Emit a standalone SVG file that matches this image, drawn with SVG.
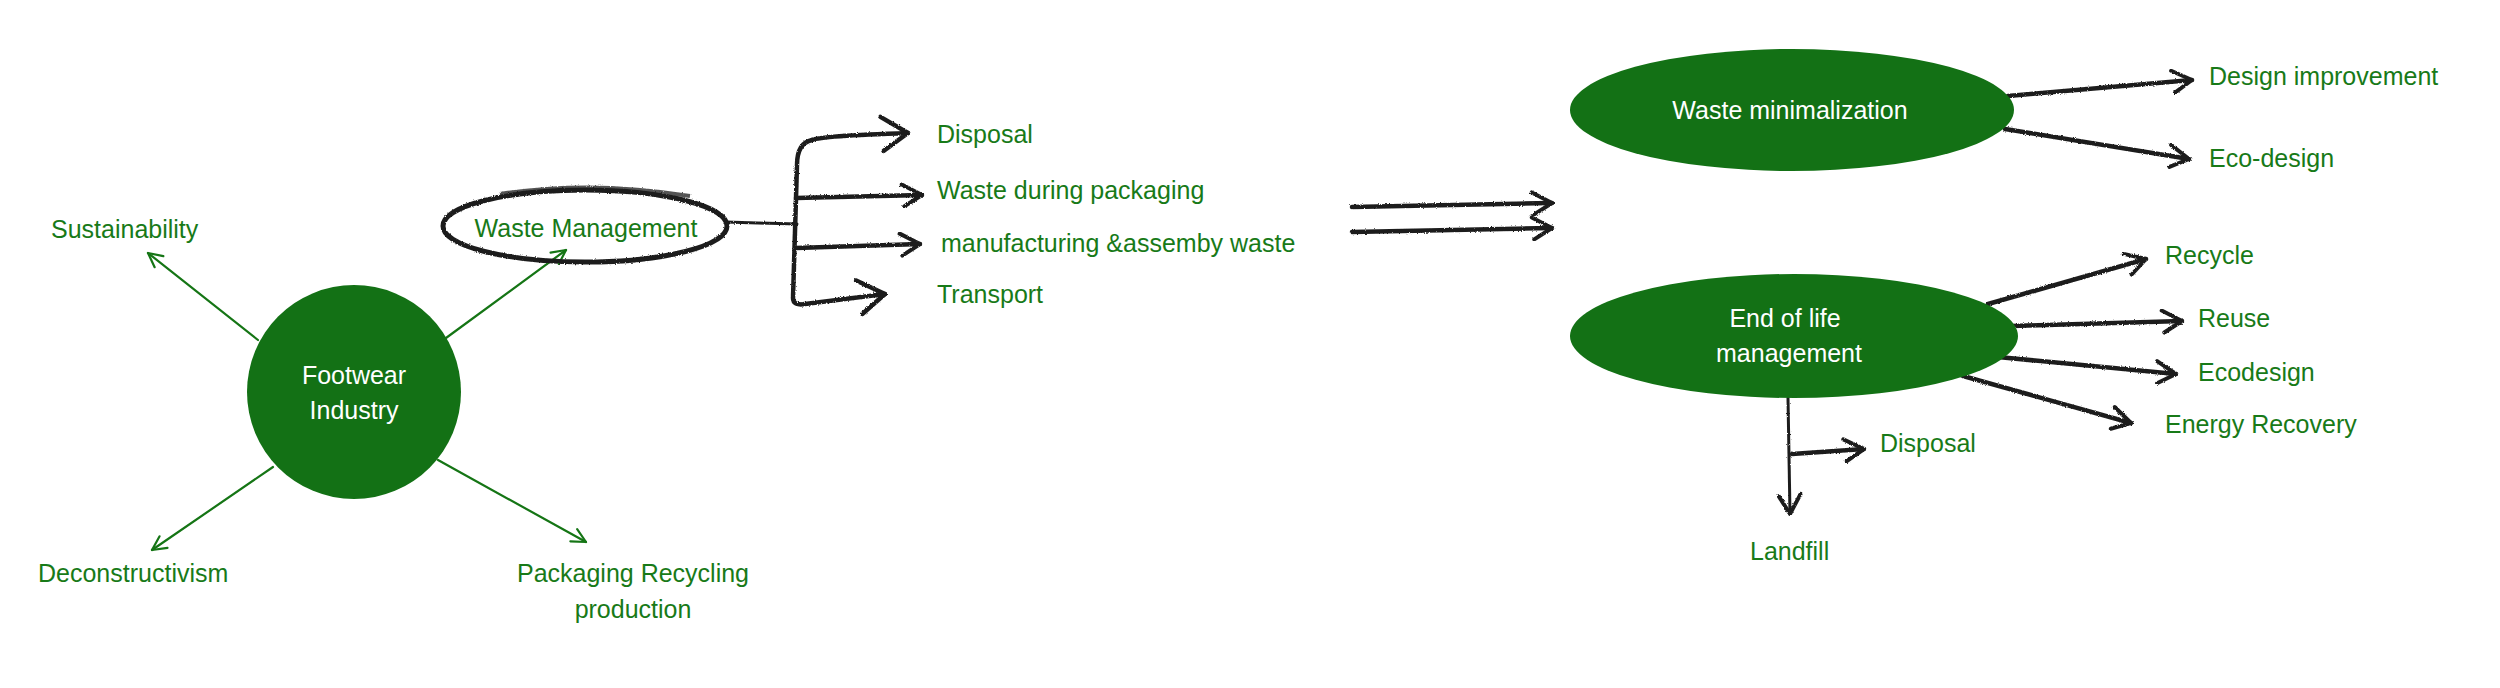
<svg xmlns="http://www.w3.org/2000/svg" width="2500" height="688" viewBox="0 0 2500 688">
<style>
.lbl{font-family:"Liberation Sans",Arial,sans-serif;font-size:25px;fill:#187a18}
.wht{font-family:"Liberation Sans",Arial,sans-serif;font-size:25px;fill:#ffffff}
.blob{fill:#137115}
.bk{fill:none;stroke:#1e1e1e;stroke-width:4.5;stroke-linecap:round;stroke-linejoin:round}
.bkt{fill:none;stroke:#1e1e1e;stroke-width:3;stroke-linecap:round}
.gr{fill:none;stroke:#157515;stroke-width:2.2;stroke-linecap:round}
</style>
<defs>
<filter id="chalk" x="-5%" y="-20%" width="110%" height="140%">
<feTurbulence type="fractalNoise" baseFrequency="0.9" numOctaves="2" seed="3" result="n"/>
<feDisplacementMap in="SourceGraphic" in2="n" scale="2.5" xChannelSelector="R" yChannelSelector="G"/>
</filter>
<marker id="ab" viewBox="0 0 26 26" refX="23" refY="13" markerWidth="26" markerHeight="26" markerUnits="userSpaceOnUse" orient="auto">
<path d="M3,2 L23,13 L5,24" fill="none" stroke="#1e1e1e" stroke-width="4" stroke-linecap="round" stroke-linejoin="round"/>
</marker>
<marker id="abL" viewBox="0 0 34 40" refX="31" refY="20" markerWidth="34" markerHeight="40" markerUnits="userSpaceOnUse" orient="auto">
<path d="M4,3 L31,20 L6,37" fill="none" stroke="#1e1e1e" stroke-width="4.5" stroke-linecap="round" stroke-linejoin="round"/>
</marker>
<marker id="ag" viewBox="0 0 18 18" refX="16" refY="9" markerWidth="18" markerHeight="18" markerUnits="userSpaceOnUse" orient="auto">
<path d="M2,2 L16,9 L2,16" fill="none" stroke="#157515" stroke-width="2.2" stroke-linecap="round" stroke-linejoin="round"/>
</marker>
</defs>
<rect width="2500" height="688" fill="#ffffff"/>

<g id="connectors">
<path class="gr" d="M258,340 L148,253" marker-end="url(#ag)"/>
<path class="gr" d="M446,338 L566,250" marker-end="url(#ag)"/>
<path class="gr" d="M273,467 L152,550" marker-end="url(#ag)"/>
<path class="gr" d="M438,460 L586,542" marker-end="url(#ag)"/>
<g filter="url(#chalk)">
<path class="bkt" d="M726,222 L797,224"/>
<path class="bk" d="M812,140 Q797,143 797,165 L793,298 Q793,306 805,304 L885,294" marker-end="url(#abL)"/>
<path class="bk" d="M812,140 Q820,136 908,133" marker-end="url(#abL)"/>
<path class="bk" d="M796,198 L922,195" marker-end="url(#ab)"/>
<path class="bk" d="M796,248 L920,244" marker-end="url(#ab)"/>
<path class="bk" d="M1352,207 L1552,203" marker-end="url(#ab)"/>
<path class="bk" d="M1352,232 L1552,228" marker-end="url(#ab)"/>
<path class="bk" d="M2008,96 L2192,80" marker-end="url(#ab)"/>
<path class="bk" d="M2005,129 L2189,159" marker-end="url(#ab)"/>
<path class="bk" d="M1988,304 L2146,259" marker-end="url(#ab)"/>
<path class="bk" d="M2012,326 L2182,321" marker-end="url(#ab)"/>
<path class="bk" d="M1998,357 L2176,374" marker-end="url(#ab)"/>
<path class="bk" d="M1963,376 L2131,423" marker-end="url(#ab)"/>
<path class="bkt" d="M1788,398 L1790,514" marker-end="url(#ab)"/>
<path class="bk" d="M1792,454 L1864,449" marker-end="url(#ab)"/>
</g>
</g>

<g id="footwear-industry">
<circle class="blob" cx="354" cy="392" r="107"/>
<text class="wht" x="354" y="384" text-anchor="middle" font-size="27">Footwear</text>
<text class="wht" x="354" y="419" text-anchor="middle" font-size="27">Industry</text>
</g>

<g id="sustainability"><text class="lbl" x="51" y="238">Sustainability</text></g>

<g id="waste-management">
<g filter="url(#chalk)">
<ellipse cx="585" cy="226" rx="142" ry="36" fill="none" stroke="#1e1e1e" stroke-width="5"/>
<path d="M500,194 Q590,180 690,196" fill="none" stroke="#1e1e1e" stroke-width="4" opacity="0.75"/>
</g>
<text class="lbl" x="586" y="237" text-anchor="middle" font-size="24">Waste Management</text>
</g>

<g id="deconstructivism"><text class="lbl" x="38" y="582">Deconstructivism</text></g>

<g id="packaging-recycling">
<text class="lbl" x="633" y="582" text-anchor="middle">Packaging Recycling</text>
<text class="lbl" x="633" y="618" text-anchor="middle">production</text>
</g>

<g id="disposal-1"><text class="lbl" x="937" y="143">Disposal</text></g>
<g id="waste-during-packaging"><text class="lbl" x="937" y="199">Waste during packaging</text></g>
<g id="manufacturing-waste"><text class="lbl" x="941" y="252" font-size="26">manufacturing &amp;assemby waste</text></g>
<g id="transport"><text class="lbl" x="937" y="303">Transport</text></g>

<g id="waste-minimalization">
<ellipse class="blob" cx="1792" cy="110" rx="222" ry="61"/>
<text class="wht" x="1790" y="119" text-anchor="middle">Waste minimalization</text>
</g>
<g id="design-improvement"><text class="lbl" x="2209" y="85">Design improvement</text></g>
<g id="eco-design"><text class="lbl" x="2209" y="167">Eco-design</text></g>

<g id="end-of-life">
<ellipse class="blob" cx="1794" cy="336" rx="224" ry="62"/>
<text class="wht" x="1785" y="327" text-anchor="middle">End of life</text>
<text class="wht" x="1789" y="362" text-anchor="middle">management</text>
</g>
<g id="recycle"><text class="lbl" x="2165" y="264">Recycle</text></g>
<g id="reuse"><text class="lbl" x="2198" y="327">Reuse</text></g>
<g id="ecodesign"><text class="lbl" x="2198" y="381">Ecodesign</text></g>
<g id="energy-recovery"><text class="lbl" x="2165" y="433">Energy Recovery</text></g>
<g id="disposal-2"><text class="lbl" x="1880" y="452">Disposal</text></g>
<g id="landfill"><text class="lbl" x="1750" y="560">Landfill</text></g>
</svg>
